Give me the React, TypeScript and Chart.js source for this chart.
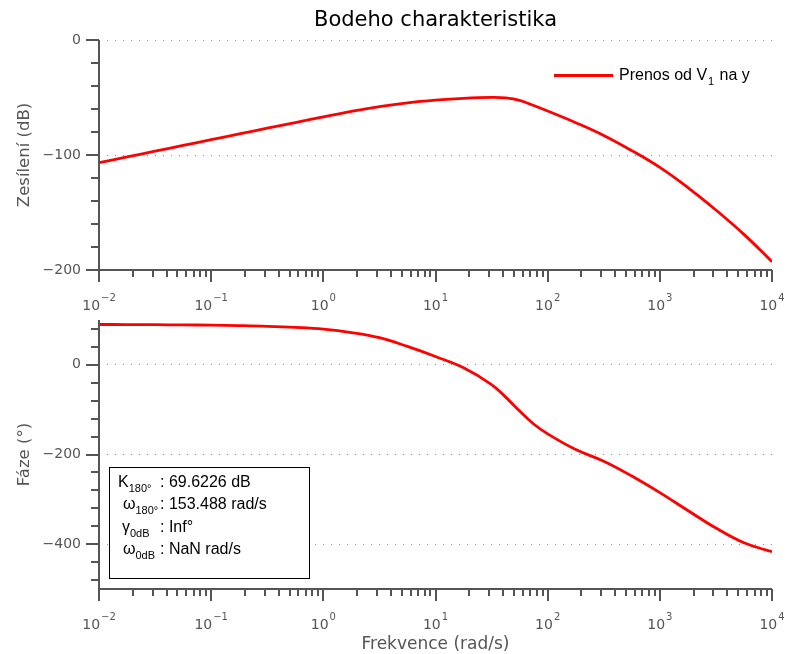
import React, { useEffect, useRef } from "react";
import { Chart, registerables } from "chart.js";

Chart.register(...registerables);

// ---- data ----
const frequencies = [0.01, 0.0178, 0.0316, 0.0562, 0.1, 0.178, 0.316, 0.562, 1, 1.78, 3.16, 5.62, 10, 17.8, 31.6, 42.2, 56.2, 75, 100, 178, 316, 562, 1000, 1778, 3162, 5623, 10000];
const magnitudeDb = [-106.7, -101.7, -96.7, -91.7, -86.7, -81.7, -76.7, -71.8, -66.9, -62.1, -57.9, -54.6, -52.3, -50.7, -49.9, -50.3, -52.5, -57.0, -61.8, -71.9, -83.0, -96.2, -110.8, -128.3, -147.8, -169.0, -192.8];
const phaseDeg = [90, 89.8, 89.5, 89.1, 88.5, 87.5, 86, 83.5, 79.5, 72, 60.5, 41, 18.5, -6.5, -44, -72, -103, -132, -154, -189, -215, -248, -285, -325, -364, -397, -417];

const seriesName = ["Prenos od V", "1", " na y"];
const chartTitle = "Bodeho charakteristika";
const magAxisTitle = "Zesílení (dB)";
const phaseAxisTitle = "Fáze (°)";
const freqAxisTitle = "Frekvence (rad/s)";

const xDecades = [0.01, 0.1, 1, 10, 100, 1000, 10000];
const xExponents = ["−2", "−1", "0", "1", "2", "3", "4"];
const xMinorMultipliers = [2, 3, 4, 5, 6, 7, 8, 9];

const magTicks = [0, -20, -40, -60, -80, -100, -120, -140, -160, -180, -200];
const magMajor = [0, -100, -200];
const phaseTicks = [80, 40, 0, -40, -80, -120, -160, -200, -240, -280, -320, -360, -400, -440, -480];
const phaseMajor = [0, -200, -400];

const marginSymbols = ["K", "ω", "γ", "ω"];
const marginSubs = ["180°", "180°", "0dB", "0dB"];
const marginValues = [": 69.6226 dB", ": 153.488 rad/s", ": Inf°", ": NaN rad/s"];

// ---- styles ----
const AXIS = "#555555";
const TEXT = "#555555";
const RED = "#ff0000";
const GEO = '"DejaVu Sans", sans-serif';
const ARIAL = '"Liberation Sans", Arial, sans-serif';

const xTickValues: number[] = [];
for (let i = 0; i < xDecades.length; i++) {
  xTickValues.push(xDecades[i]);
  if (i < xDecades.length - 1) xMinorMultipliers.forEach((m) => xTickValues.push(xDecades[i] * m));
}

const fmt = (v: number) => (v === 0 ? "0" : (v < 0 ? "−" : "") + Math.abs(v));

function line(ctx: CanvasRenderingContext2D, x1: number, y1: number, x2: number, y2: number) {
  ctx.beginPath();
  ctx.moveTo(x1, y1);
  ctx.lineTo(x2, y2);
  ctx.stroke();
}

function makeDecor(kind: "mag" | "phase") {
  return {
    id: "bodeDecor",
    afterDraw(chart: any) {
      const { ctx, chartArea: a, scales } = chart;
      const xs = scales.x;
      const ys = scales.y;
      const yTicks = kind === "mag" ? magTicks : phaseTicks;
      const yMajor = kind === "mag" ? magMajor : phaseMajor;
      ctx.save();
      // axis lines
      ctx.strokeStyle = AXIS;
      ctx.lineWidth = 2;
      ctx.beginPath();
      ctx.moveTo(a.left, a.top);
      ctx.lineTo(a.left, a.bottom);
      ctx.lineTo(a.right, a.bottom);
      ctx.stroke();
      // x ticks
      for (const v of xTickValues) {
        const px = Math.round(xs.getPixelForValue(v));
        const len = xDecades.includes(v) ? 12 : 7;
        line(ctx, px, a.bottom, px, a.bottom + len);
      }
      // y ticks
      for (const v of yTicks) {
        const py = Math.round(ys.getPixelForValue(v));
        const len = yMajor.includes(v) ? 13 : 8;
        line(ctx, a.left - len, py, a.left, py);
      }
      // x tick labels 10^n
      ctx.fillStyle = TEXT;
      ctx.textAlign = "left";
      ctx.textBaseline = "alphabetic";
      xDecades.forEach((v, i) => {
        const px = xs.getPixelForValue(v);
        ctx.font = `14px ${GEO}`;
        const wb = ctx.measureText("10").width;
        ctx.font = `10px ${GEO}`;
        const we = ctx.measureText(xExponents[i]).width;
        const x0 = px - (wb + we + 1) / 2;
        const base = a.bottom + 40;
        ctx.font = `14px ${GEO}`;
        ctx.fillText("10", x0, base);
        ctx.font = `10px ${GEO}`;
        ctx.fillText(xExponents[i], x0 + wb + 1, base - 9);
      });
      // y axis title
      ctx.save();
      ctx.translate(25, (a.top + a.bottom) / 2);
      ctx.rotate(-Math.PI / 2);
      ctx.textAlign = "center";
      ctx.textBaseline = "middle";
      ctx.font = `16.5px ${GEO}`;
      ctx.fillStyle = TEXT;
      ctx.fillText(kind === "mag" ? magAxisTitle : phaseAxisTitle, 0, 0);
      ctx.restore();

      if (kind === "mag") {
        // title
        ctx.fillStyle = "#000";
        ctx.textAlign = "center";
        ctx.font = `21px ${GEO}`;
        ctx.fillText(chartTitle, (a.left + a.right) / 2, a.top - 14);
        // legend
        ctx.strokeStyle = RED;
        ctx.lineWidth = 2.8;
        line(ctx, a.right - 218, a.top + 35.5, a.right - 159, a.top + 35.5);
        ctx.textAlign = "left";
        ctx.fillStyle = "#000";
        let x = a.right - 153;
        const base = a.top + 40;
        ctx.font = `16px ${ARIAL}`;
        ctx.fillText(seriesName[0], x, base);
        x += ctx.measureText(seriesName[0]).width + 1;
        ctx.font = `11px ${ARIAL}`;
        ctx.fillText(seriesName[1], x, base + 5);
        x += ctx.measureText(seriesName[1]).width + 1;
        ctx.font = `16px ${ARIAL}`;
        ctx.fillText(seriesName[2], x, base);
      } else {
        // x axis title
        ctx.fillStyle = TEXT;
        ctx.textAlign = "center";
        ctx.textBaseline = "middle";
        ctx.font = `17px ${GEO}`;
        ctx.fillText(freqAxisTitle, (a.left + a.right) / 2, a.bottom + 56);
        // margins box
        const bx = a.left + 10;
        const by = a.top + 147;
        ctx.fillStyle = "#fff";
        ctx.fillRect(bx, by, 200, 111);
        ctx.strokeStyle = "#000";
        ctx.lineWidth = 1;
        ctx.strokeRect(bx + 0.5, by + 0.5, 200, 111);
        ctx.fillStyle = "#000";
        ctx.textAlign = "left";
        ctx.textBaseline = "alphabetic";
        const symX = [bx + 9, bx + 14, bx + 13, bx + 14];
        for (let i = 0; i < marginSymbols.length; i++) {
          const base = by + 20 + i * 22.3;
          ctx.font = `16px ${ARIAL}`;
          ctx.fillText(marginSymbols[i], symX[i], base);
          const w = ctx.measureText(marginSymbols[i]).width;
          ctx.font = `11px ${ARIAL}`;
          ctx.fillText(marginSubs[i], symX[i] + w, base + 5);
          ctx.font = `16px ${ARIAL}`;
          ctx.fillText(marginValues[i], bx + 51, base);
        }
      }
      ctx.restore();
    },
  };
}

function makeConfig(kind: "mag" | "phase"): any {
  const values = kind === "mag" ? magnitudeDb : phaseDeg;
  const yTicks = kind === "mag" ? magTicks : phaseTicks;
  const yMajor = kind === "mag" ? magMajor : phaseMajor;
  const xHeight = kind === "mag" ? 50 : 65;
  return {
    type: "line",
    data: {
      datasets: [
        {
          label: seriesName.join(""),
          data: frequencies.map((f, i) => ({ x: f, y: values[i] })),
          borderColor: RED,
          borderWidth: 2.8,
          pointRadius: 0,
          tension: 0.4,
          fill: false,
        },
      ],
    },
    options: {
      responsive: false,
      animation: false,
      devicePixelRatio: 1,
      layout: { padding: { top: 40, right: 14, left: 0, bottom: 0 } },
      plugins: { legend: { display: false }, title: { display: false }, tooltip: { enabled: false } },
      scales: {
        x: {
          type: "logarithmic",
          min: 0.01,
          max: 10000,
          afterBuildTicks: (s: any) => {
            s.ticks = xDecades.map((v) => ({ value: v, major: true }));
          },
          afterFit: (s: any) => {
            s.height = xHeight;
          },
          ticks: { display: false },
          grid: { display: false, drawTicks: false },
          border: { display: false },
        },
        y: {
          type: "linear",
          min: kind === "mag" ? -200 : -500,
          max: kind === "mag" ? 0 : 100,
          afterBuildTicks: (s: any) => {
            s.ticks = [...yTicks].sort((p, q) => p - q).map((v) => ({ value: v }));
          },
          afterFit: (s: any) => {
            s.width = 99;
          },
          ticks: {
            autoSkip: false,
            padding: 18,
            color: TEXT,
            font: { family: GEO, size: 14 },
            callback: (v: number) => (yMajor.includes(v) ? fmt(v) : ""),
          },
          grid: {
            drawTicks: false,
            lineWidth: 1,
            color: (c: any) => (c.tick && yMajor.includes(c.tick.value) ? "#8c8c8c" : "rgba(0,0,0,0)"),
          },
          border: { display: false, dash: [1, 7] },
        },
      },
    },
    plugins: [makeDecor(kind)],
  };
}

export default function App() {
  const topRef = useRef<HTMLCanvasElement>(null);
  const botRef = useRef<HTMLCanvasElement>(null);
  useEffect(() => {
    const c1 = new Chart(topRef.current!, makeConfig("mag"));
    const c2 = new Chart(botRef.current!, makeConfig("phase"));
    return () => {
      c1.destroy();
      c2.destroy();
    };
  }, []);
  return (
    <div style={{ position: "absolute", left: 0, top: 0, width: 786, height: 654, background: "#fff" }}>
      <canvas ref={topRef} width={786} height={320} style={{ position: "absolute", left: 0, top: 0, width: 786, height: 320 }} />
      <canvas ref={botRef} width={786} height={374} style={{ position: "absolute", left: 0, top: 280, width: 786, height: 374 }} />
    </div>
  );
}
